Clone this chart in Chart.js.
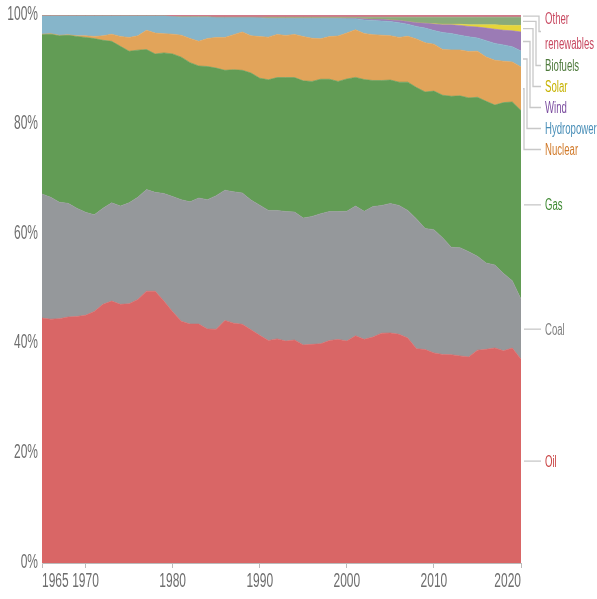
<!DOCTYPE html>
<html lang="en">
<head>
<meta charset="UTF-8">
<script src="https://cdn.jsdelivr.net/npm/chart.js"></script>
<title>Energy mix</title>
<style>
  html, body { margin: 0; padding: 0; background: #fff; }
  #wrap { width: 597px; height: 599px; }
</style>
</head>
<body>
<div id="wrap"><canvas id="mix" width="597" height="599"></canvas></div>
<script>
const years = [1965,1966,1967,1968,1969,1970,1971,1972,1973,1974,
  1975,1976,1977,1978,1979,1980,1981,1982,1983,1984,
  1985,1986,1987,1988,1989,1990,1991,1992,1993,1994,
  1995,1996,1997,1998,1999,2000,2001,2002,2003,2004,
  2005,2006,2007,2008,2009,2010,2011,2012,2013,2014,
  2015,2016,2017,2018,2019,2020];

// share of primary energy, %
const oil = [44.6,44.4,44.5,44.8,44.9,45.2,45.8,47.1,47.7,47.1,
  47.2,48.0,49.5,49.5,47.7,45.8,44.1,43.6,43.6,42.7,
  42.7,44.3,43.8,43.6,42.6,41.6,40.7,41.0,40.6,40.8,
  39.9,40.0,40.1,40.7,40.9,40.6,41.5,40.9,41.4,42.1,
  42.1,41.9,41.2,39.3,39.1,38.5,38.2,38.2,37.9,37.8,
  38.8,39.1,39.4,39.0,39.3,37.3];
const coal = [22.6,22.2,21.2,20.7,19.7,18.8,17.6,17.5,17.9,17.9,
  18.4,18.6,18.5,18.0,19.6,21.0,22.2,22.3,23.0,23.6,
  24.4,23.8,24.0,24.0,23.7,23.8,23.8,23.5,23.7,23.4,
  23.2,23.4,23.8,23.6,23.4,23.7,23.7,23.4,23.9,23.4,
  23.7,23.6,23.4,23.8,22.2,22.6,21.4,19.7,19.8,19.3,
  17.1,15.8,15.2,14.2,12.3,11.0];
const gas = [29.0,29.7,30.3,30.6,31.3,31.9,32.1,30.6,29.4,29.1,
  27.6,26.8,25.5,25.2,25.6,26.0,26.0,25.4,24.1,24.3,
  23.3,21.9,22.3,22.4,23.2,23.2,23.9,24.3,24.5,24.6,
  25.1,24.7,24.6,24.2,23.8,24.2,23.5,24.1,23.1,22.9,
  22.6,22.6,23.5,24.1,25.0,25.4,26.1,27.7,27.8,28.2,
  29.0,29.6,29.3,31.4,32.7,34.5];
const nuclear = [0.1,0.1,0.1,0.1,0.1,0.3,0.4,0.8,1.3,1.8,
  2.5,2.6,3.5,3.8,3.5,3.6,4.0,4.4,4.5,5.1,
  5.6,6.0,6.4,7.0,6.8,7.6,7.8,7.9,7.7,7.9,
  8.1,7.9,7.4,7.8,8.3,8.4,8.7,8.4,8.4,8.3,
  8.1,8.2,8.4,8.9,9.0,8.6,8.4,8.5,8.4,8.5,
  8.4,8.1,8.2,7.6,7.3,8.0];
const hydro = [3.3,3.2,3.5,3.4,3.6,3.6,3.7,3.6,3.3,3.7,
  3.9,3.6,2.6,3.1,3.2,3.2,3.3,3.9,4.4,3.9,
  3.6,3.6,3.1,2.6,3.3,3.4,3.4,2.9,3.1,2.9,
  3.3,3.6,3.7,3.3,3.2,2.6,2.0,2.5,2.6,2.6,
  2.6,2.7,2.2,2.3,2.7,2.5,3.1,3.0,2.7,2.7,
  2.4,3.0,3.1,3.0,2.8,2.9];
const wind = [0,0,0,0,0,0,0,0,0,0,
  0,0,0,0,0,0,0,0,0,0,
  0,0,0,0,0,0.05,0.05,0.05,0.05,0.05,
  0.05,0.05,0.05,0.05,0.05,0.1,0.1,0.2,0.2,0.3,
  0.3,0.4,0.5,0.7,0.9,1.2,1.4,1.6,1.8,1.9,
  2.0,2.3,2.6,2.7,2.9,3.5];
const solar = [0,0,0,0,0,0,0,0,0,0,
  0,0,0,0,0,0,0,0,0,0,
  0,0,0,0,0,0,0,0,0,0,
  0,0,0,0,0,0,0,0,0,0,
  0,0,0,0,0,0.05,0.1,0.1,0.2,0.3,
  0.4,0.6,0.8,0.9,1.0,1.2];
const biofuels = [0,0,0,0,0,0,0,0,0,0,
  0,0,0,0,0,0,0.1,0.1,0.1,0.1,
  0.1,0.1,0.1,0.1,0.1,0.1,0.2,0.2,0.2,0.2,
  0.2,0.2,0.2,0.2,0.2,0.2,0.2,0.3,0.4,0.4,
  0.5,0.6,0.8,1.0,1.1,1.2,1.3,1.3,1.3,1.4,
  1.4,1.4,1.4,1.5,1.5,1.5];
const otherRenewables = [0.2,0.2,0.2,0.2,0.2,0.2,0.2,0.2,0.2,0.2,
  0.2,0.2,0.2,0.2,0.2,0.3,0.3,0.3,0.3,0.3,
  0.4,0.4,0.4,0.4,0.4,0.4,0.4,0.4,0.4,0.4,
  0.4,0.4,0.4,0.4,0.4,0.4,0.4,0.4,0.4,0.4,
  0.4,0.4,0.4,0.4,0.4,0.4,0.4,0.4,0.4,0.4,
  0.4,0.4,0.4,0.4,0.4,0.4];

const seriesNames = ['Oil','Coal','Gas','Nuclear','Hydropower','Wind','Solar','Biofuels','Other renewables'];
const seriesValues = [oil, coal, gas, nuclear, hydro, wind, solar, biofuels, otherRenewables];
const fillColors = ['#d96666','#95989b','#629c55','#e2a45a','#86b5ca','#9b7bb5','#e6d53a','#8aab7a','#d27a8a'];
const labelColors = ['#c94343','#808080','#3f8a33','#d17a2a','#4a8fb8','#7c4ea0','#c6b200','#4e7a3c','#c84860'];
const xTicks = [1965,1970,1980,1990,2000,2010,2020];
const yTicks = [0,20,40,60,80,100];

const FONT = '"Liberation Sans", Arial, sans-serif';
const SQUEEZE = 0.6; // the reference text is very narrow

// relative stacking: each year sums to 100
const totals = years.map((_, i) => seriesValues.reduce((s, arr) => s + arr[i], 0));
const shares = seriesValues.map(arr => arr.map((v, i) => v / totals[i] * 100));

const datasets = seriesNames.map((name, k) => ({
  label: name,
  data: years.map((y, i) => ({ x: y, y: shares[k][i] })),
  backgroundColor: fillColors[k],
  borderColor: fillColors[k],
  borderWidth: 0.6,
  pointRadius: 0,
  tension: 0,
  fill: k === 0 ? 'origin' : '-1'
}));

function narrowText(ctx, text, x, y, align) {
  ctx.save();
  ctx.translate(x, y);
  ctx.scale(SQUEEZE, 1);
  ctx.textAlign = align;
  ctx.fillText(text, 0, 0);
  ctx.restore();
}

const axisText = {
  id: 'axisText',
  afterDraw(chart) {
    const ctx = chart.ctx;
    const { x, y } = chart.scales;
    ctx.save();
    ctx.font = '20px ' + FONT;
    ctx.fillStyle = '#6e6e6e';
    ctx.textBaseline = 'middle';
    yTicks.forEach(v => narrowText(ctx, v + '%', 38, y.getPixelForValue(v) - 1, 'right'));
    xTicks.forEach((v, i) => {
      const align = i === 0 ? 'left' : (i === xTicks.length - 1 ? 'right' : 'center');
      narrowText(ctx, String(v), x.getPixelForValue(v), 581, align);
    });
    ctx.restore();
  }
};

const sideLabels = {
  id: 'sideLabels',
  afterDraw(chart) {
    const ctx = chart.ctx;
    const yScale = chart.scales.y;
    const right = chart.chartArea.right;
    const last = years.length - 1;
    let base = 0;
    const items = seriesNames.map((name, k) => {
      const lo = base;
      base += shares[k][last];
      const lines = name === 'Other renewables' ? ['Other', 'renewables'] : [name];
      return { k, lines, target: yScale.getPixelForValue((lo + base) / 2),
               h: lines.length === 1 ? 21 : 47 };
    });
    // place from top down, no overlap
    const order = items.slice().reverse();
    let prevBottom = 8;
    order.forEach(it => {
      const top = Math.max(it.target - it.h / 2, prevBottom);
      it.center = top + it.h / 2;
      prevBottom = top + it.h;
    });
    const moved = order.filter(it => Math.abs(it.center - it.target) > 4);
    ctx.save();
    ctx.strokeStyle = '#c8c8c8';
    ctx.lineWidth = 1.3;
    order.forEach(it => {
      ctx.beginPath();
      const idx = moved.indexOf(it);
      if (idx >= 0) {
        const vx = right + 3 + (moved.length - 1 - idx) * 3;
        ctx.moveTo(right + 2, it.target);
        ctx.lineTo(vx, it.target);
        ctx.lineTo(vx, it.center);
        ctx.lineTo(right + 20, it.center);
      } else {
        ctx.moveTo(right + 3, it.center);
        ctx.lineTo(right + 20, it.center);
      }
      ctx.stroke();
    });
    ctx.font = '16px ' + FONT;
    ctx.textBaseline = 'middle';
    order.forEach(it => {
      ctx.fillStyle = labelColors[it.k];
      const first = it.center - (it.lines.length - 1) * 12.5 + 1;
      it.lines.forEach((ln, j) => narrowText(ctx, ln, right + 24, first + j * 25, 'left'));
    });
    ctx.restore();
  }
};

new Chart(document.getElementById('mix'), {
  type: 'line',
  data: { datasets },
  options: {
    responsive: false,
    animation: false,
    events: [],
    layout: { padding: { top: 15, right: 76, left: 0, bottom: 0 } },
    plugins: { legend: { display: false }, tooltip: { enabled: false } },
    scales: {
      x: {
        type: 'linear',
        min: 1965,
        max: 2020,
        afterBuildTicks: axis => { axis.ticks = xTicks.map(v => ({ value: v })); },
        afterFit: axis => { axis.height = 36; },
        grid: { drawOnChartArea: false, drawTicks: true, tickLength: 5, color: '#bbb' },
        border: { display: true, color: '#bbb' },
        ticks: { display: false }
      },
      y: {
        stacked: true,
        min: 0,
        max: 100,
        z: 1,
        afterBuildTicks: axis => { axis.ticks = yTicks.map(v => ({ value: v })); },
        afterFit: axis => { axis.width = 42; },
        grid: { drawTicks: false, color: 'rgba(0,0,0,0.13)' },
        border: { display: true, color: '#ccc', dash: [3, 3] },
        ticks: { display: false }
      }
    }
  },
  plugins: [sideLabels, axisText]
});
</script>
</body>
</html>
